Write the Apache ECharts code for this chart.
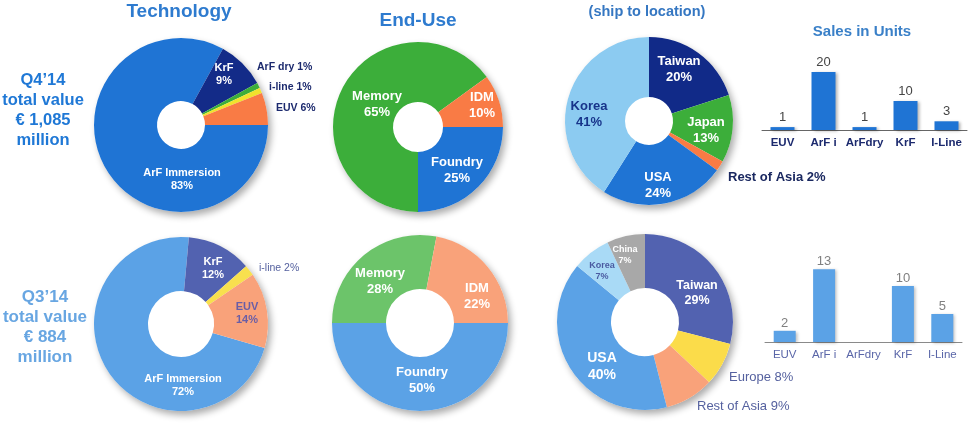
<!DOCTYPE html>
<html><head><meta charset="utf-8">
<script src="https://cdn.jsdelivr.net/npm/echarts@6/dist/echarts.min.js"></script>
<style>html,body{margin:0;padding:0;background:#fff}#c{width:977px;height:423px}</style>
</head><body><div id="c"></div>
<script>
// ---------------- data ----------------
const techQ4Names = ['ArF Immersion', 'KrF', 'ArF dry', 'i-line', 'EUV'];
const techQ4Values = [83, 9, 1, 1, 6];
const techQ3Names = ['ArF Immersion', 'KrF', 'i-line', 'EUV'];
const techQ3Values = [72, 12, 2, 14];
const endUseNames = ['Foundry', 'Memory', 'IDM'];
const endUseQ4Values = [25, 65, 10];
const endUseQ3Values = [50, 28, 22];
const geoQ4Names = ['Taiwan', 'Japan', 'Rest of Asia', 'USA', 'Korea'];
const geoQ4Values = [20, 13, 2, 24, 41];
const geoQ3Names = ['Taiwan', 'Europe', 'Rest of Asia', 'USA', 'Korea', 'China'];
const geoQ3Values = [29, 8, 9, 40, 7, 7];
const unitCategories = ['EUV', 'ArF i', 'ArFdry', 'KrF', 'I-Line'];
const unitsQ4 = [1, 20, 1, 10, 3];
const unitsQ3 = [2, 13, null, 10, 5];
const titles = ['Technology', 'End-Use', '(ship to location)', 'Sales in Units'];
const q4Text = 'Q4\u201914\ntotal value\n\u20ac 1,085\nmillion';
const q3Text = 'Q3\u201914\ntotal value\n\u20ac 884\nmillion';

// ---------------- styling ----------------
const FONT = '"Liberation Sans", Arial, Helvetica, sans-serif';
const W = '#ffffff';
const NAVY = '#1c2a6e';
const SLATE = '#55619f';

function pie(cfg) {
  const cx = cfg.center[0], cy = cfg.center[1];
  const sum = cfg.values.reduce((a, b) => a + b, 0);
  const backing = {
    type: 'pie', center: cfg.center, radius: [0, cfg.radius[1]], z: 1, silent: true,
    startAngle: cfg.startAngle, label: { show: false }, labelLine: { show: false },
    emphasis: { disabled: true }, tooltip: { show: false },
    itemStyle: { color: '#ffffff', shadowBlur: 7, shadowOffsetX: 3, shadowOffsetY: 4, shadowColor: 'rgba(0,0,0,0.33)' },
    data: [{ value: sum, name: '' }]
  };
  const main = {
    type: 'pie', center: cfg.center, radius: cfg.radius, z: 2, startAngle: cfg.startAngle,
    clockwise: true, avoidLabelOverlap: false, emphasis: { disabled: true },
    labelLine: { show: false },
    data: cfg.names.map((n, i) => {
      const L = cfg.labels[i];
      return {
        name: n, value: cfg.values[i],
        itemStyle: { color: cfg.colors[i], borderWidth: 0 },
        label: {
          show: true, position: 'inside',
          formatter: L.one ? '{b} {c}%' : '{b}\n{c}%',
          color: L.c, fontSize: L.s, fontWeight: L.w || 'bold', fontFamily: FONT,
          lineHeight: Math.round(L.s * 1.2)
        }
      };
    }),
    labelLayout: function (p) {
      const L = cfg.labels[p.dataIndex];
      return { x: cx + L.p[0], y: cy + L.p[1], align: L.a || 'center', verticalAlign: 'middle' };
    }
  };
  return [backing, main];
}

const series = [].concat(
  pie({
    center: [181, 125], radius: [24, 87], startAngle: 0,
    names: techQ4Names, values: techQ4Values,
    colors: ['#1f74d4', '#132b88', '#3cae3a', '#f1e22c', '#f97b45'],
    labels: [
      { p: [1, 54], c: W, s: 11 },
      { p: [43, -51], c: W, s: 11 },
      { p: [76, -58], c: NAVY, s: 10.5, a: 'left', one: true },
      { p: [88, -38], c: NAVY, s: 10.5, a: 'left', one: true },
      { p: [95, -17], c: NAVY, s: 10.5, a: 'left', one: true }
    ]
  }),
  pie({
    center: [418, 127], radius: [25, 85], startAngle: 0,
    names: endUseNames, values: endUseQ4Values,
    colors: ['#1f74d4', '#3cae3a', '#f97b45'],
    labels: [
      { p: [39, 43], c: W, s: 13 },
      { p: [-41, -23], c: W, s: 13 },
      { p: [64, -22], c: W, s: 13 }
    ]
  }),
  pie({
    center: [649, 121], radius: [24, 84], startAngle: 90,
    names: geoQ4Names, values: geoQ4Values,
    colors: ['#112a88', '#3cae3a', '#f97b45', '#1f74d4', '#8ccbf1'],
    labels: [
      { p: [30, -52], c: W, s: 13 },
      { p: [57, 9], c: W, s: 13 },
      { p: [79, 56], c: '#1a2860', s: 13, a: 'left', one: true },
      { p: [9, 64], c: W, s: 13 },
      { p: [-60, -7], c: '#17348a', s: 13 }
    ]
  }),
  pie({
    center: [181, 324], radius: [33, 87], startAngle: -16,
    names: techQ3Names, values: techQ3Values,
    colors: ['#5ba2e6', '#5262b0', '#f8e04e', '#f9a27a'],
    labels: [
      { p: [2, 61], c: W, s: 11 },
      { p: [32, -56], c: W, s: 11 },
      { p: [78, -56], c: SLATE, s: 10.5, w: 'normal', a: 'left', one: true },
      { p: [66, -11], c: '#6a5ea6', s: 11 }
    ]
  }),
  pie({
    center: [420, 323], radius: [34, 88], startAngle: 0,
    names: endUseNames, values: endUseQ3Values,
    colors: ['#5ba2e6', '#6cc46a', '#f9a27a'],
    labels: [
      { p: [2, 57], c: W, s: 13 },
      { p: [-40, -42], c: W, s: 13 },
      { p: [57, -27], c: W, s: 13 }
    ]
  }),
  pie({
    center: [645, 322], radius: [34, 88], startAngle: 90,
    names: geoQ3Names, values: geoQ3Values,
    colors: ['#5262b0', '#fbdc4a', '#f9a27a', '#5ba2e6', '#a9daf6', '#a8a8a8'],
    labels: [
      { p: [52, -29], c: W, s: 12.5 },
      { p: [84, 55], c: SLATE, s: 13, w: 'normal', a: 'left', one: true },
      { p: [52, 84], c: SLATE, s: 13, w: 'normal', a: 'left', one: true },
      { p: [-43, 45], c: W, s: 14 },
      { p: [-43, -51], c: '#4a5aa0', s: 9 },
      { p: [-20, -67], c: W, s: 9 }
    ]
  }),
  [{
    type: 'bar', xAxisIndex: 0, yAxisIndex: 0, data: unitsQ4, barWidth: 24,
    itemStyle: { color: '#1f74d4', shadowBlur: 3, shadowOffsetX: 2, shadowOffsetY: 1, shadowColor: 'rgba(0,0,0,0.3)' },
    label: { show: true, position: 'top', distance: 3, color: '#454545', fontSize: 13, fontFamily: FONT }
  }, {
    type: 'bar', xAxisIndex: 1, yAxisIndex: 1, data: unitsQ3, barWidth: 22,
    itemStyle: { color: '#5ba2e6', shadowBlur: 3, shadowOffsetX: 2, shadowOffsetY: 1, shadowColor: 'rgba(0,0,0,0.25)' },
    label: { show: true, position: 'top', distance: 1, color: '#808080', fontSize: 13, fontFamily: FONT }
  }]
);

function txt(text, x, y, size, color, lh) {
  return {
    type: 'text', x: x, y: y, silent: true,
    style: {
      text: text, fill: color, font: 'bold ' + size + 'px ' + FONT,
      textAlign: 'center', textVerticalAlign: 'middle', align: 'center', verticalAlign: 'middle',
      lineHeight: lh || Math.round(size * 1.2)
    }
  };
}

const option = {
  animation: false,
  backgroundColor: '#ffffff',
  graphic: [
    txt(titles[0], 179, 12, 19, '#2e7bcf'),
    txt(titles[1], 418, 20.5, 19, '#2e7bcf'),
    txt(titles[2], 647, 11.5, 14.5, '#3577c2'),
    txt(titles[3], 862, 31.5, 15, '#3a80c8'),
    txt(q4Text, 43, 110.5, 16.5, '#1f78d6', 20),
    txt(q3Text, 45, 327, 17, '#68a6e2', 20)
  ],
  grid: [
    { left: 762, width: 205, top: 72, height: 58 },
    { left: 765, width: 197, top: 269.2, height: 72.8 }
  ],
  xAxis: [
    {
      type: 'category', gridIndex: 0, data: unitCategories,
      axisTick: { show: false }, axisLine: { lineStyle: { color: '#666666' } },
      axisLabel: { interval: 0, margin: 7, color: NAVY, fontWeight: 'bold', fontSize: 11.5, fontFamily: FONT }
    },
    {
      type: 'category', gridIndex: 1, data: unitCategories,
      axisTick: { show: false }, axisLine: { lineStyle: { color: '#8a8a8a' } },
      axisLabel: { interval: 0, margin: 7, color: '#5a66a8', fontSize: 11.5, fontFamily: FONT }
    }
  ],
  yAxis: [
    { type: 'value', gridIndex: 0, min: 0, max: 20, show: false },
    { type: 'value', gridIndex: 1, min: 0, max: 13, show: false }
  ],
  series: series
};

const chart = echarts.init(document.getElementById('c'), null, { renderer: 'canvas' });
chart.setOption(option);
</script>
</body></html>
